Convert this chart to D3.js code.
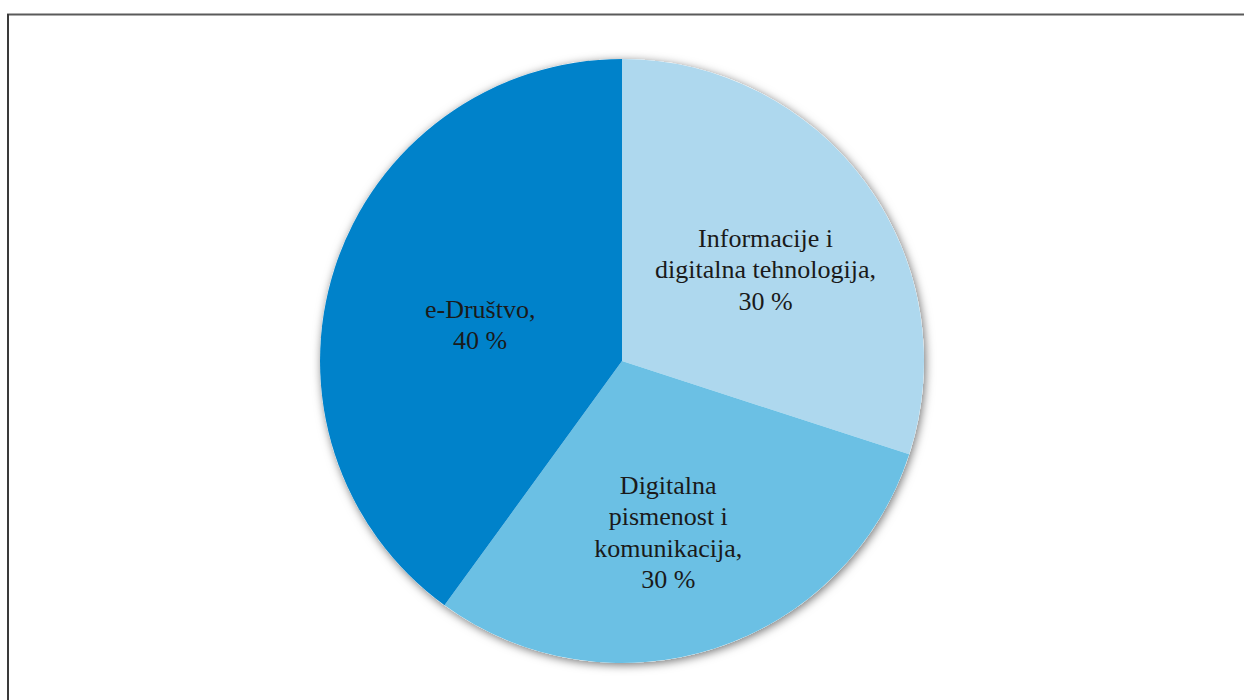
<!DOCTYPE html>
<html><head><meta charset="utf-8">
<script src="https://cdn.jsdelivr.net/npm/d3@7"></script>
<style>html,body{margin:0;padding:0;background:#fff;}svg{display:block;}</style>
</head><body>
<svg id="c" width="1244" height="700"></svg>
<script>
const categories = ["Informacije i digitalna tehnologija", "Digitalna pismenost i komunikacija", "e-Društvo"];
const values = [30, 30, 40];
const labelLines = [
  ["Informacije i", "digitalna tehnologija,", "30 %"],
  ["Digitalna", "pismenost i", "komunikacija,", "30 %"],
  ["e-Društvo,", "40 %"]
];
const colors = ["#AED8EE", "#6BC0E4", "#0082CA"];

const svg = d3.select("#c");
// frame
svg.append("line").attr("x1",7).attr("x2",1244).attr("y1",14.5).attr("y2",14.5).attr("stroke","#5a5a5a").attr("stroke-width",2);
svg.append("line").attr("x1",8).attr("x2",8).attr("y1",14).attr("y2",700).attr("stroke","#3a3a3a").attr("stroke-width",2);

const defs = svg.append("defs");
const f = defs.append("filter").attr("id","sh").attr("x","-20%").attr("y","-20%").attr("width","140%").attr("height","140%");
f.append("feDropShadow").attr("dx",1.5).attr("dy",2).attr("stdDeviation",5).attr("flood-color","#000").attr("flood-opacity",0.55);

const cx = 622, cy = 361, R = 302;
const g = svg.append("g").attr("transform",`translate(${cx},${cy})`);
const pie = d3.pie().sort(null).value(d=>d);
const arcs = pie(values);
const arc = d3.arc().innerRadius(0).outerRadius(R);

g.append("circle").attr("r",R).attr("fill","#fff").attr("filter","url(#sh)");
g.selectAll("path.s").data(arcs).enter().append("path").attr("class","s")
  .attr("d",arc).attr("fill",(d,i)=>colors[i]);

const labelR = [175, 182, 147];
const labelAdj = [[2,12],[-10,-1],[-2,10]];
const fs = 26, lh = 31.5;
arcs.forEach((d,i)=>{
  const a = (d.startAngle+d.endAngle)/2;
  const x = Math.sin(a)*labelR[i] + labelAdj[i][0];
  const y = -Math.cos(a)*labelR[i] + labelAdj[i][1];
  const lines = labelLines[i];
  const t = g.append("text").attr("text-anchor","middle")
    .attr("font-family","'Liberation Serif','Times New Roman',serif")
    .attr("font-size",fs).attr("fill","#1a1a1a");
  lines.forEach((ln,j)=>{
    t.append("tspan").attr("x",x).attr("y", y + (j-(lines.length-1)/2)*lh + 8).text(ln);
  });
});
</script>
</body></html>
